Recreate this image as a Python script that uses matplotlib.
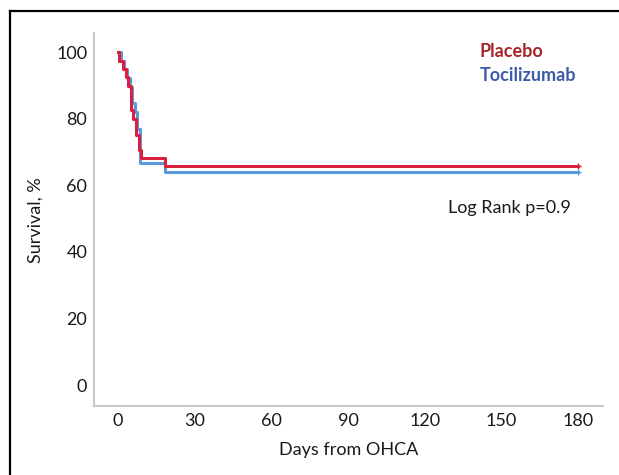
import matplotlib
matplotlib.use("Agg")
import matplotlib.pyplot as plt
from matplotlib.lines import Line2D

plt.rcParams["font.family"] = ["Lato", "DejaVu Sans"]

# Kaplan-Meier steps (days, survival %)
PLACEBO_DAYS = [0, 0.5, 2, 3, 4, 5, 6, 7, 8, 9, 18.5, 180]
PLACEBO_SURV = [100, 97.5, 95, 92.5, 90, 82.5, 80, 75, 70.5, 68.3, 65.8, 65.8]
TOCI_DAYS = [0, 1, 2.5, 3.5, 4.5, 5.5, 6.5, 7.5, 8.5, 18.5, 180]
TOCI_SURV = [100, 97.4, 94.9, 92.3, 89.7, 84.6, 82.1, 76.9, 66.7, 64.1, 64.1]

X_TICKS = [0, 30, 60, 90, 120, 150, 180]
Y_TICKS = [0, 20, 40, 60, 80, 100]

RED = "#d9203f"
BLUE = "#5b9bdc"
GREY = "#c9c9c9"
FS = 13

fig = plt.figure(figsize=(6.19, 4.75), dpi=100)
ax = fig.add_axes([0.152, 0.145, 0.822, 0.785])

ax.step(TOCI_DAYS, TOCI_SURV, where="post", color=BLUE, lw=2.2, zorder=2)
ax.step(PLACEBO_DAYS, PLACEBO_SURV, where="post", color=RED, lw=2.2, zorder=3)
ax.plot(TOCI_DAYS[-1], TOCI_SURV[-1], "+", color=BLUE, ms=4, mew=1)
ax.plot(PLACEBO_DAYS[-1], PLACEBO_SURV[-1], "+", color=RED, ms=4, mew=1)

ax.set_xlim(-9.4, 189.8)
ax.set_ylim(-6.3, 105.7)
ax.set_xticks(X_TICKS)
ax.set_yticks(Y_TICKS)
ax.tick_params(length=0, labelsize=FS, colors="#1a1a1a", pad=5)
for s in ["top", "right"]:
    ax.spines[s].set_visible(False)
for s in ["left", "bottom"]:
    ax.spines[s].set_color(GREY)
    ax.spines[s].set_linewidth(1.5)

ax.set_xlabel("Days from OHCA", fontsize=FS, color="#1a1a1a", labelpad=9)
ax.set_ylabel("Survival, %", fontsize=FS, color="#1a1a1a", labelpad=9)

ax.text(0.757, 0.95, "Placebo", transform=ax.transAxes, fontsize=FS,
        fontweight="bold", color="#a3262b", va="center")
ax.text(0.757, 0.887, "Tocilizumab", transform=ax.transAxes, fontsize=FS,
        fontweight="bold", color="#3f5aa8", va="center")
ax.text(0.695, 0.532, "Log Rank p=0.9", transform=ax.transAxes, fontsize=FS,
        color="#1a1a1a", va="center")

# black frame at top and left, as in the screenshot
fig.add_artist(Line2D([10 / 619, 10 / 619], [0, 1 - 11 / 475],
                      transform=fig.transFigure, color="black", lw=1.6))
fig.add_artist(Line2D([10 / 619, 1], [1 - 11 / 475, 1 - 11 / 475],
                      transform=fig.transFigure, color="black", lw=1.6))

fig.savefig("out.png", dpi=100)
